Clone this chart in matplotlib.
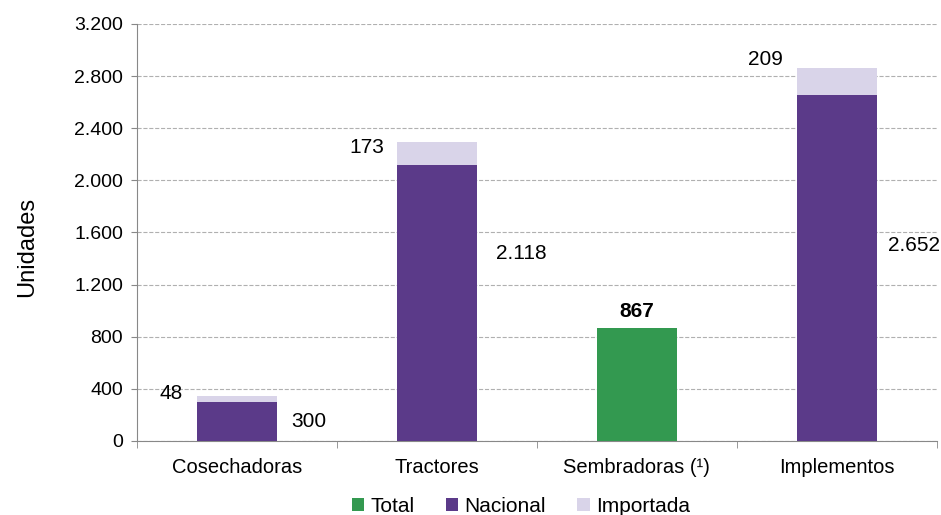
import matplotlib.pyplot as plt
import numpy as np
from matplotlib.ticker import FuncFormatter

plt.rcParams['font.family'] = ['Liberation Sans', 'DejaVu Sans']

# data
categorias = ['Cosechadoras', 'Tractores', 'Sembradoras (¹)', 'Implementos']
total = [0, 0, 867, 0]
nacional = [300, 2118, 0, 2652]
importada = [48, 173, 0, 209]

c_total = '#339950'
c_nac = '#5b3a89'
c_imp = '#d9d4e9'

# posicion de etiquetas (desplazamientos a mano, como en el original)
imp_dx = [-0.33, -0.35, 0, -0.355]
imp_dy = [20, -35, 0, 70]
nac_dx = [0.36, 0.42, 0, 0.385]
nac_dy = [0, 380, 0, 178]


def miles(v, pos=None):
    return f'{int(v):,}'.replace(',', '.')


fig = plt.figure(figsize=(9.41, 5.15), dpi=100)
ax = fig.add_axes([0.1456, 0.1437, 0.850, 0.8097])

x = np.arange(len(categorias))
w = 0.4
ax.bar(x, total, w, color=c_total, label='Total', zorder=3)
ax.bar(x, nacional, w, color=c_nac, label='Nacional', zorder=3)
ax.bar(x, importada, w, bottom=nacional, color=c_imp, label='Importada', zorder=3)

# labels
for i in range(len(categorias)):
    if total[i]:
        ax.text(x[i], total[i] + 125, miles(total[i]), ha='center', va='center',
                fontsize=15, fontweight='bold')
        continue
    ax.text(x[i] + imp_dx[i], nacional[i] + importada[i] + imp_dy[i],
            miles(importada[i]), ha='center', va='center', fontsize=15)
    ax.text(x[i] + nac_dx[i], nacional[i] * 0.5 + nac_dy[i],
            miles(nacional[i]), ha='center', va='center', fontsize=15)

ax.set_xlim(-0.5, len(categorias) - 0.5)
ax.set_ylim(0, 3200)
ax.set_yticks(np.arange(0, 3201, 400))
ax.yaxis.set_major_formatter(FuncFormatter(miles))
ax.set_xticks(x)
ax.set_xticklabels(categorias)
ax.set_xticks(np.arange(-0.5, len(categorias)), minor=True)
ax.tick_params(axis='x', which='major', length=0, pad=12, labelsize=14.5)
ax.tick_params(axis='x', which='minor', length=5, color='#888888')
ax.tick_params(axis='y', length=4, color='#888888', labelsize=14, pad=6)
ax.set_ylabel('Unidades', fontsize=17)
ax.yaxis.set_label_coords(-0.124, 0.465)

ax.grid(axis='y', linestyle='--', color='#b0b0b0', linewidth=0.8, zorder=0)
for s in ['top', 'right']:
    ax.spines[s].set_visible(False)
ax.spines['left'].set_color('#888888')
ax.spines['bottom'].set_color('#888888')

ax.legend(loc='upper center', bbox_to_anchor=(0.48, -0.134), ncol=3, frameon=False,
          fontsize=15, handlelength=0.6, handleheight=0.6, handletextpad=0.3,
          columnspacing=1.5, borderaxespad=0, borderpad=0)

fig.savefig('out.png', dpi=100)
